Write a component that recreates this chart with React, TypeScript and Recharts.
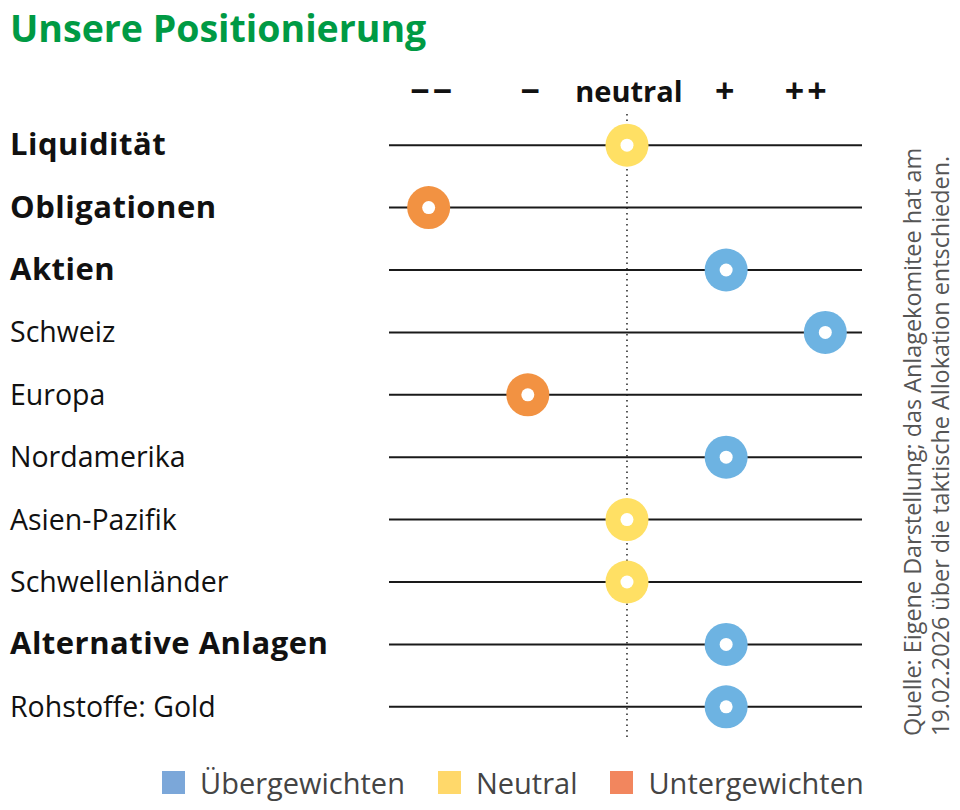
import React from 'react';
import { ScatterChart, Scatter, XAxis, YAxis, ReferenceLine, Legend } from 'recharts';

const categories = ['Liquidität', 'Obligationen', 'Aktien', 'Schweiz', 'Europa', 'Nordamerika', 'Asien-Pazifik', 'Schwellenländer', 'Alternative Anlagen', 'Rohstoffe: Gold'];
const positions = [0, -2, 1, 2, -1, 1, 0, 0, 1, 1];
const headlineRows = ['Liquidität', 'Obligationen', 'Aktien', 'Alternative Anlagen'];
const scaleTicks = [-2, -1, 0, 1, 2];
const scaleLabels = ['−−', '−', 'neutral', '+', '++'];
const seriesNames = ['Übergewichten', 'Neutral', 'Untergewichten'];
const dotColors = ['#6DB3E2', '#FFE064', '#F29242'];
const legendColors = ['#7BA7D9', '#FFD86A', '#F2865E'];
const rowIndex = categories.map((_, i) => i);

const FONT = '"Open Sans", "Noto Sans", sans-serif';
const headerNudge = [4, 4, 2, 0, -18];

const rows = categories.map((name, i) => ({ name, idx: i, pos: positions[i] }));
const seriesOf = (p: number) => (p > 0 ? 0 : p === 0 ? 1 : 2);
const seriesData = seriesNames.map((_, s) => rows.filter((r) => seriesOf(r.pos) === s));

const XTick = (props: any) => {
  const { x, y, payload } = props;
  const i = scaleTicks.indexOf(payload.value);
  const lbl = scaleLabels[i];
  const sym = lbl !== 'neutral';
  return (
    <text x={x + headerNudge[i]} y={y} dy={sym ? -3 : -4} textAnchor="middle" fontFamily={FONT} fontWeight={700} fontSize={sym ? 34 : 29} letterSpacing={sym ? 3 : 0} fill="#111">
      {lbl}
    </text>
  );
};

const YTick = (props: any) => {
  const { y, payload } = props;
  const name = categories[payload.value];
  const bold = headlineRows.includes(name);
  return (
    <text x={10} y={y} dy={10} textAnchor="start" fontFamily={FONT} fontWeight={bold ? 700 : 400} fontSize={bold ? 31 : 28.5} letterSpacing={bold ? 0.5 : 0} fill="#111">
      {name}
    </text>
  );
};

const makeShape = (color: string) => (props: any) => {
  const { cx, cy } = props;
  return (
    <g>
      <circle cx={cx} cy={cy} r={21.5} fill={color} />
      <circle cx={cx} cy={cy} r={6.5} fill="#fff" />
    </g>
  );
};

const LegendContent = () => (
  <div style={{ display: 'flex', alignItems: 'center', paddingLeft: 162, fontFamily: FONT, fontSize: 29, color: '#444' }}>
    {seriesNames.map((n, i) => (
      <div key={n} style={{ display: 'flex', alignItems: 'center', marginRight: 33 }}>
        <span style={{ display: 'inline-block', width: 23, height: 23, background: legendColors[i], marginRight: 15 }} />
        <span>{n}</span>
      </div>
    ))}
  </div>
);

export default function App() {
  return (
    <div style={{ position: 'relative', width: 960, height: 810, background: '#fff' }}>
      <style>{`body{margin:0}`}</style>
      <div style={{ position: 'absolute', left: 10, top: 2, fontFamily: FONT, fontWeight: 700, fontSize: 37.5, color: '#009A44' }}>
        Unsere Positionierung
      </div>
      <ScatterChart width={960} height={810} margin={{ top: 54, right: 98, bottom: 33, left: 0 }}>
        <XAxis type="number" dataKey="pos" orientation="top" domain={[-2.4, 2.37]} ticks={scaleTicks} axisLine={false} tickLine={false} tick={<XTick />} height={60} allowDataOverflow interval={0} />
        <YAxis type="number" dataKey="idx" domain={[-0.5, 9.5]} reversed ticks={rowIndex} axisLine={false} tickLine={false} tick={<YTick />} width={389} interval={0} />
        {rowIndex.map((i) => (
          <ReferenceLine key={`row-${i}`} y={i} stroke="#1a1a1a" strokeWidth={2} />
        ))}
        <ReferenceLine x={0} stroke="#222" strokeWidth={1.5} strokeDasharray="1.5 4" />
        {seriesNames.map((n, s) => (
          <Scatter key={n} name={n} data={seriesData[s]} fill={legendColors[s]} shape={makeShape(dotColors[s])} isAnimationActive={false} />
        ))}
        <Legend verticalAlign="bottom" content={<LegendContent />} wrapperStyle={{ left: 0, width: 960, top: 763 }} />
      </ScatterChart>
      <div style={{ position: 'absolute', left: 898, top: 736, transformOrigin: 'top left', transform: 'rotate(-90deg)', whiteSpace: 'nowrap', fontFamily: FONT, fontSize: 23.4, lineHeight: '28px', color: '#555' }}>
        <div>Quelle: Eigene Darstellung; das Anlagekomitee hat am</div>
        <div>19.02.2026 über die taktische Allokation entschieden.</div>
      </div>
    </div>
  );
}
